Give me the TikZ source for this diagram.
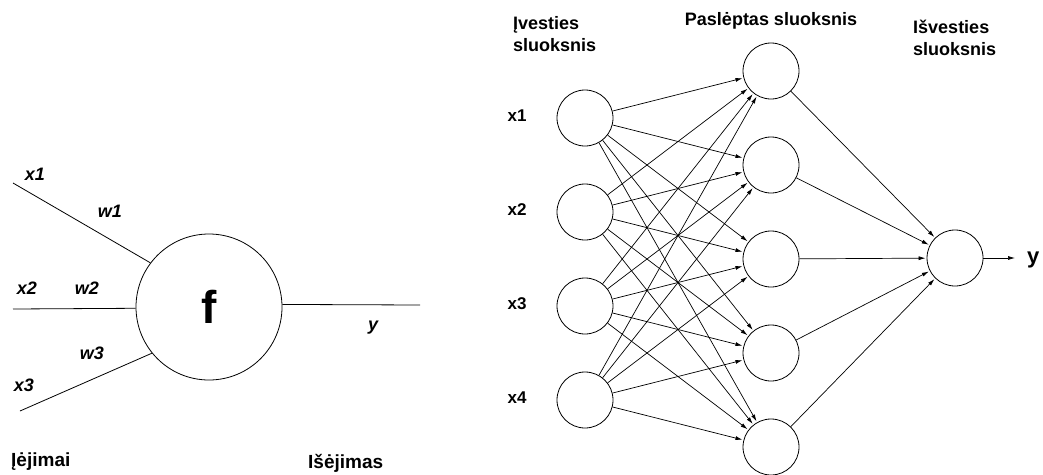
\documentclass[tikz,border=0pt]{standalone}
\usepackage{fontspec}
\setmainfont{Liberation Sans}
\usetikzlibrary{arrows.meta}
\tikzset{
  neuron/.style={draw, circle, inner sep=0pt, minimum size=56pt, line width=0.8pt},
  bigneuron/.style={draw, circle, inner sep=0pt, minimum size=146pt, line width=0.8pt,
    font=\fontsize{46}{46}\selectfont\bfseries},
  wire/.style={line width=0.8pt},
  link/.style={line width=0.7pt, -{Latex[length=7pt,width=4pt]}, shorten >=1pt},
  lbl/.style={inner sep=0pt, font=\fontsize{19}{22}\selectfont\bfseries},
  ilbl/.style={inner sep=0pt, font=\fontsize{18}{20}\selectfont\bfseries\itshape},
  xlbl/.style={inner sep=0pt, font=\fontsize{17}{18}\selectfont\bfseries},
  head/.style={inner sep=0pt, align=left, font=\fontsize{18}{22}\selectfont\bfseries}
}
\begin{document}
\begin{tikzpicture}[x=1pt, y=-1pt]
\useasboundingbox (0,0) rectangle (1043,474);

% ---- single neuron ----
\node[bigneuron] (f) at (209,307) {f};
\coordinate (a1) at (13,183);
\coordinate (a2) at (13,309);
\coordinate (a3) at (20,411);
\coordinate (ay) at (420,305);
\draw[wire] (a1) -- (f.143);
\draw[wire] (a2) -- (f.181);
\draw[wire] (a3) -- (f.219);
\draw[wire] (f.2) -- (ay);

\node[ilbl] (lx1) at (35,174) {x1};
\node[ilbl] (lw1) at (110,211) {w1};
\node[ilbl] (lx2) at (27,288) {x2};
\node[ilbl] (lw2) at (87,288) {w2};
\node[ilbl] (lw3) at (92,353) {w3};
\node[ilbl] (lx3) at (24,385) {x3};
\node[ilbl] (ly)  at (373,328) {y};
\node[lbl, anchor=west] (inp) at (11,462) {Įėjimai};
\node[lbl, anchor=west] (outp) at (308,463) {Išėjimas};

% ---- layered network ----
\node[head, anchor=north west] (hin) at (513,16) {Įvesties\\sluoksnis};
\node[head] (hhid) at (771,21) {Paslėptas sluoksnis};
\node[head, anchor=north west] (hout) at (913,20) {Išvesties\\sluoksnis};

\foreach \i/\y in {1/118, 2/212, 3/306, 4/400} {
  \node[neuron] (i\i) at (585,\y) {};
  \node[xlbl] (xl\i) at (517,\y-2) {x\i};
}
\foreach \j/\y in {1/71, 2/165, 3/259, 4/353, 5/447} {
  \node[neuron] (h\j) at (771,\y) {};
}
\node[neuron] (o) at (955,258) {};

\foreach \i in {1,...,4} {
  \foreach \j in {1,...,5} {
    \draw[link] (i\i) -- (h\j);
  }
}
\foreach \j in {1,...,5} {
  \draw[link] (h\j) -- (o);
}
\coordinate (yend) at (1016,258);
\draw[link] (o) -- (yend);
\node[inner sep=0pt, anchor=west, font=\fontsize{22}{22}\selectfont\bfseries] (yl) at (1027,260) {y};
\end{tikzpicture}
\end{document}
